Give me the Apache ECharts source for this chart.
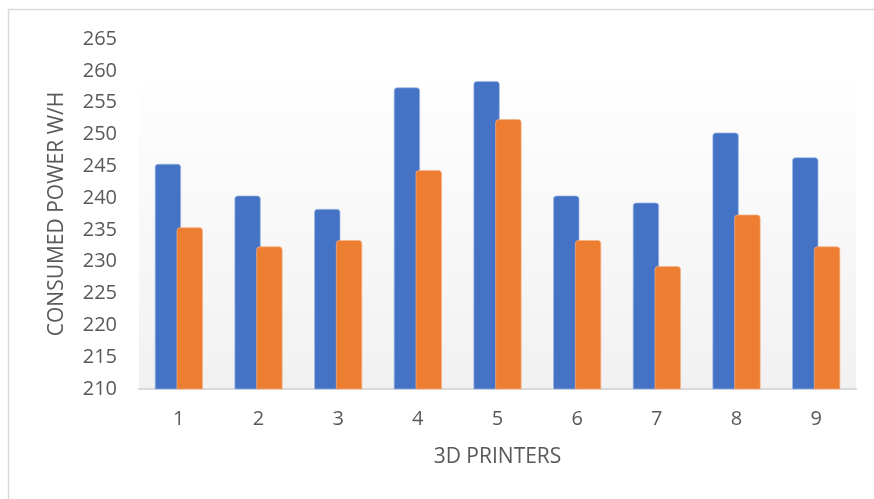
<!DOCTYPE html>
<html>
<head>
<meta charset="utf-8">
<script src="https://cdn.jsdelivr.net/npm/echarts@6/dist/echarts.min.js"></script>
<style>
  html, body { margin: 0; padding: 0; background: #ffffff; }
  #chart { width: 874px; height: 499px; }
</style>
</head>
<body>
<div id="chart"></div>
<script>
// Power consumption per 3D printer, two measurement sets
const printers = ['1', '2', '3', '4', '5', '6', '7', '8', '9'];
const seriesA = [245.4, 240.4, 238.3, 257.4, 258.4, 240.4, 239.3, 250.3, 246.4];
const seriesB = [235.4, 232.4, 233.4, 244.4, 252.4, 233.4, 229.3, 237.4, 232.4];
const yMin = 210, yMax = 265, yStep = 5;

const textColor = '#595959';
const fontFamily = '"Open Sans", "Noto Sans", sans-serif';

const chart = echarts.init(document.getElementById('chart'), null, { renderer: 'canvas' });

chart.setOption({
  animation: false,
  backgroundColor: '#ffffff',
  graphic: [{
    type: 'rect',
    silent: true,
    z: -10,
    shape: { x: 8.5, y: 9.5, width: 900, height: 600 },
    style: { fill: 'none', stroke: '#d9d9d9', lineWidth: 1.5 }
  }],
  grid: { left: 139, right: 18, top: 39, bottom: 110, containLabel: false },
  xAxis: {
    type: 'category',
    data: printers,
    name: '3D PRINTERS',
    nameLocation: 'middle',
    nameGap: 58,
    nameTextStyle: { color: textColor, fontSize: 21, fontFamily: fontFamily },
    axisLine: { show: true, lineStyle: { color: '#d9d9d9', width: 2 } },
    axisTick: { show: false },
    axisLabel: { color: textColor, fontSize: 20, fontFamily: fontFamily, margin: 20 }
  },
  yAxis: {
    type: 'value',
    min: yMin,
    max: yMax,
    interval: yStep,
    name: 'CONSUMED POWER W/H',
    nameLocation: 'middle',
    nameGap: 71,
    nameRotate: 90,
    nameTextStyle: { color: textColor, fontSize: 21, fontFamily: fontFamily },
    axisLine: { show: false },
    axisTick: { show: false },
    splitLine: { show: false },
    axisLabel: { color: textColor, fontSize: 20, fontFamily: fontFamily, margin: 22 }
  },
  series: [
    {
      name: 'A',
      type: 'bar',
      data: seriesA,
      barWidth: '33%',
      barGap: '-17%',
      itemStyle: {
        color: '#4472C4',
        borderColor: 'rgba(160,185,230,0.9)',
        borderWidth: 0.8,
        borderRadius: [3, 3, 0, 0]
      },
      markArea: {
        silent: true,
        z: -1,
        itemStyle: {
          color: {
            type: 'linear', x: 0, y: 0, x2: 0, y2: 1,
            colorStops: [
              { offset: 0, color: '#fefefe' },
              { offset: 1, color: '#f1f1f1' }
            ]
          }
        },
        data: [[{ yAxis: 257.8 }, { yAxis: 210 }]]
      }
    },
    {
      name: 'B',
      type: 'bar',
      data: seriesB,
      barWidth: '33%',
      itemStyle: {
        color: '#ED7D31',
        borderColor: 'rgba(245,175,130,0.9)',
        borderWidth: 0.8,
        borderRadius: [3, 3, 0, 0]
      }
    }
  ]
});
</script>
</body>
</html>
